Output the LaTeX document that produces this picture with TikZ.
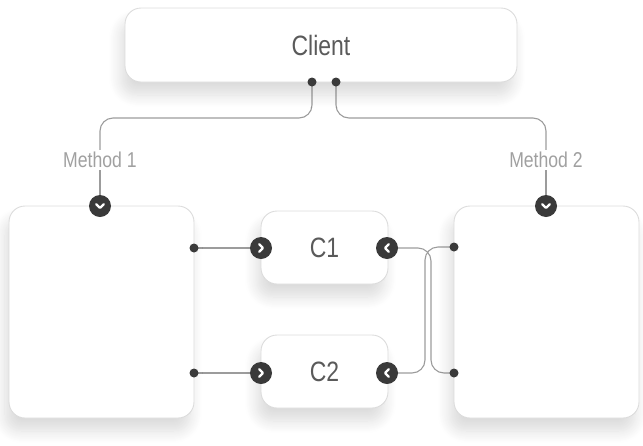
\documentclass[tikz,border=0pt]{standalone}
\usepackage{fontspec}
\setmainfont{Liberation Sans}[FakeStretch=0.82]
\usetikzlibrary{shadows.blur,backgrounds}
\definecolor{boxline}{HTML}{DCDCDC}
\definecolor{wire}{HTML}{9C9C9C}
\definecolor{knob}{HTML}{3A3A3A}
\definecolor{maintext}{HTML}{5A5A5A}
\definecolor{labeltext}{HTML}{A0A0A0}
\tikzset{
  card/.style={draw=boxline, line width=0.9pt, fill=white, rounded corners=16pt,
    inner sep=0pt, outer sep=0pt, font=\fontsize{28}{30}\selectfont, text=maintext,
    blur shadow={shadow xshift=-4pt, shadow yshift=-13pt, shadow blur radius=12pt,
      shadow blur steps=12, shadow opacity=14}},
  pin/.style={circle, fill=knob, minimum size=9pt, inner sep=0pt, outer sep=0pt},
  port/.style={circle, fill=knob, minimum size=22pt, inner sep=0pt, outer sep=0pt},
  mark stroke/.style={white, line width=2.3pt, line cap=round, line join=round},
  port down/.style={port, path picture={\draw[mark stroke]
      ([shift={(-3.8pt,1.9pt)}]path picture bounding box.center) --
      ([shift={(0pt,-1.9pt)}]path picture bounding box.center) --
      ([shift={(3.8pt,1.9pt)}]path picture bounding box.center);}},
  port right/.style={port, path picture={\draw[mark stroke]
      ([shift={(-1.9pt,3.8pt)}]path picture bounding box.center) --
      ([shift={(1.9pt,0pt)}]path picture bounding box.center) --
      ([shift={(-1.9pt,-3.8pt)}]path picture bounding box.center);}},
  port left/.style={port, path picture={\draw[mark stroke]
      ([shift={(1.9pt,3.8pt)}]path picture bounding box.center) --
      ([shift={(-1.9pt,0pt)}]path picture bounding box.center) --
      ([shift={(1.9pt,-3.8pt)}]path picture bounding box.center);}},
  wirepath/.style={draw=wire, line width=1.1pt, rounded corners=13pt},
  methodlabel/.style={inner sep=2pt, text=labeltext, font=\fontsize{21.5}{24}\selectfont},
}
\begin{document}
\begin{tikzpicture}[x=1pt,y=1pt]
\useasboundingbox (0,0) rectangle (643,-445);

% boxes
\node[card, minimum width=392pt, minimum height=74pt] (client) at (321,-45) {Client};
\node[card, minimum width=185pt, minimum height=212pt] (leftbox) at (101.5,-312) {};
\node[card, minimum width=185pt, minimum height=212pt] (rightbox) at (546.5,-312) {};
\node[card, minimum width=127pt, minimum height=73pt] (c1) at (324.5,-247.5) {C1};
\node[card, minimum width=127pt, minimum height=73pt] (c2) at (324.5,-371.5) {C2};

% method labels
\node[methodlabel] (m1) at (100,-160) {Method 1};
\node[methodlabel] (m2) at (546,-160) {Method 2};

% pins and ports
\node[pin] (cl1) at (312,-82) {};
\node[pin] (cl2) at (336,-82) {};
\node[pin] (lp1) at (194,-248) {};
\node[pin] (lp2) at (194,-373) {};
\node[pin] (rp1) at (454,-247) {};
\node[pin] (rp2) at (454,-373) {};
\node[port down] (lin) at (100,-206) {};
\node[port down] (rin) at (546,-206) {};
\node[port right] (c1in) at (261,-248) {};
\node[port right] (c2in) at (261,-373) {};
\node[port left] (c1out) at (387,-248) {};
\node[port left] (c2out) at (387,-373) {};

% connectors
\begin{pgfonlayer}{background}
  \draw[wirepath] (cl1.center) -- (cl1.center |- 0,-118) -- (m1.north |- 0,-118) -- (m1.north);
  \draw[wirepath] (cl2.center) -- (cl2.center |- 0,-118) -- (m2.north |- 0,-118) -- (m2.north);
  \draw[wirepath] (m1.south) -- (lin.center);
  \draw[wirepath] (m2.south) -- (rin.center);
  \draw[wirepath] (lp1.center) -- (c1in.center);
  \draw[wirepath] (lp2.center) -- (c2in.center);
  \draw[wirepath] (c1out.center) -- (431,-248) -- (431,-373) -- (rp2.center);
  \draw[wirepath] (rp1.center) -- (425,-247) -- (425,-373) -- (c2out.center);
\end{pgfonlayer}
\end{tikzpicture}
\end{document}
